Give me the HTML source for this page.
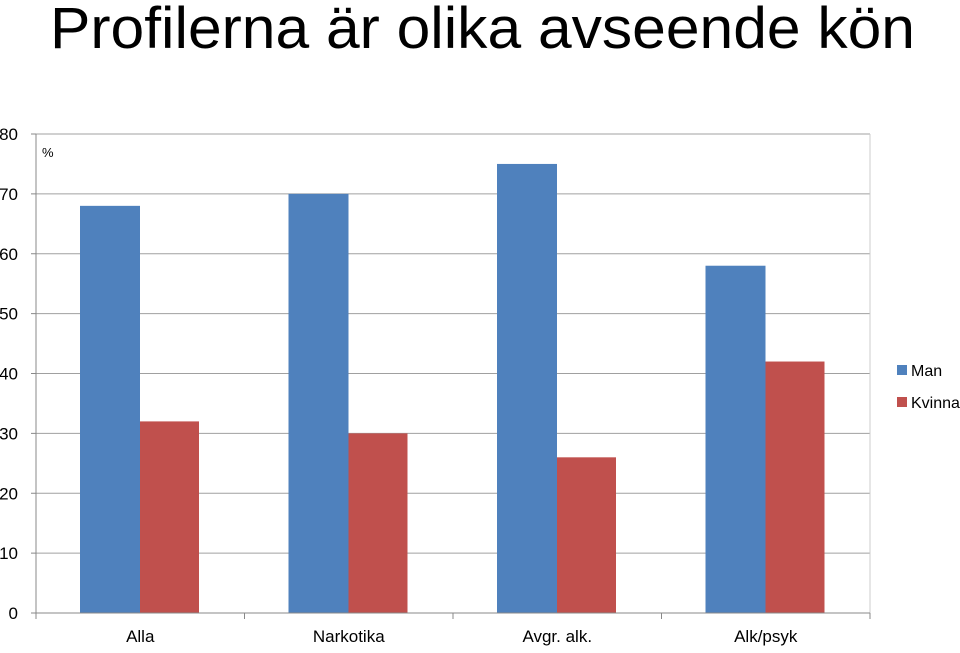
<!DOCTYPE html>
<html><head><meta charset="utf-8"><style>
body{margin:0;background:#fff;width:960px;height:648px;overflow:hidden}
svg{font-family:"Liberation Sans",sans-serif}
</style></head><body>
<svg id="chart" width="960" height="648">
<text x="50" y="48" font-size="58" textLength="865" lengthAdjust="spacingAndGlyphs" fill="#000">Profilerna är olika avseende kön</text>
<text x="42" y="157" font-size="13">%</text>
<g id="grid"></g><g id="bars"></g><g id="axes"></g>
<rect x="897" y="365" width="10" height="10" fill="#4f81bd"/>
<text x="911" y="376" font-size="16">Man</text>
<rect x="897" y="397" width="10" height="10" fill="#c0504d"/>
<text x="911" y="408" font-size="16">Kvinna</text>
</svg>
<script>
const categories=["Alla","Narkotika","Avgr. alk.","Alk/psyk"];
const manValues=[68,70,75,58];
const kvinnaValues=[32,30,26,42];
const yTicks=[0,10,20,30,40,50,60,70,80];
const NS="http://www.w3.org/2000/svg";
const X0=36,X1=870,Y0=613,YT=134,YMAX=80;
const y=v=>Y0-(v/YMAX)*(Y0-YT);
const cw=(X1-X0)/categories.length;
function mk(tag,attrs,parent){const e=document.createElementNS(NS,tag);for(const k in attrs)e.setAttribute(k,attrs[k]);document.getElementById(parent).appendChild(e);return e;}
yTicks.forEach(t=>{
  if(t>0){const g=mk('line',{x1:X0,x2:X1,y1:y(t),y2:y(t),stroke:'#a0a0a0','stroke-width':1},'grid');
  
  }
  const tk=mk('line',{x1:X0-5,x2:X0,y1:y(t),y2:y(t),stroke:'#888'},'axes');
  
  
  const l=mk('text',{x:X0-18,y:y(t)+6,'font-size':17,'text-anchor':'end'},'axes');
  l.textContent=t;
  
  
});
categories.forEach((c,i)=>{
  const cx=X0+i*cw;
  const bm=mk('rect',{x:cx+44,y:y(manValues[i]),width:60,height:Y0-y(manValues[i]),fill:'#4f81bd'},'bars');
  
  
  const bk=mk('rect',{x:cx+104,y:y(kvinnaValues[i]),width:59,height:Y0-y(kvinnaValues[i]),fill:'#c0504d'},'bars');
  
  
  const l=mk('text',{x:cx+cw/2,y:642,'font-size':17,'text-anchor':'middle'},'axes');
  l.textContent=c;
  
  
});
for(let i=0;i<=categories.length;i++){
  const t=mk('line',{x1:X0+i*cw,x2:X0+i*cw,y1:Y0,y2:Y0+6,stroke:'#888'},'axes');
  
  
}
const ya=mk('line',{x1:X0,x2:X0,y1:YT,y2:Y0,stroke:'#888'},'axes');


const xa=mk('line',{x1:X0,x2:X1,y1:Y0,y2:Y0,stroke:'#888'},'axes');


const rb=mk('line',{x1:X1,x2:X1,y1:YT,y2:Y0,stroke:'#ccc'},'grid');


</script>
</body></html>
